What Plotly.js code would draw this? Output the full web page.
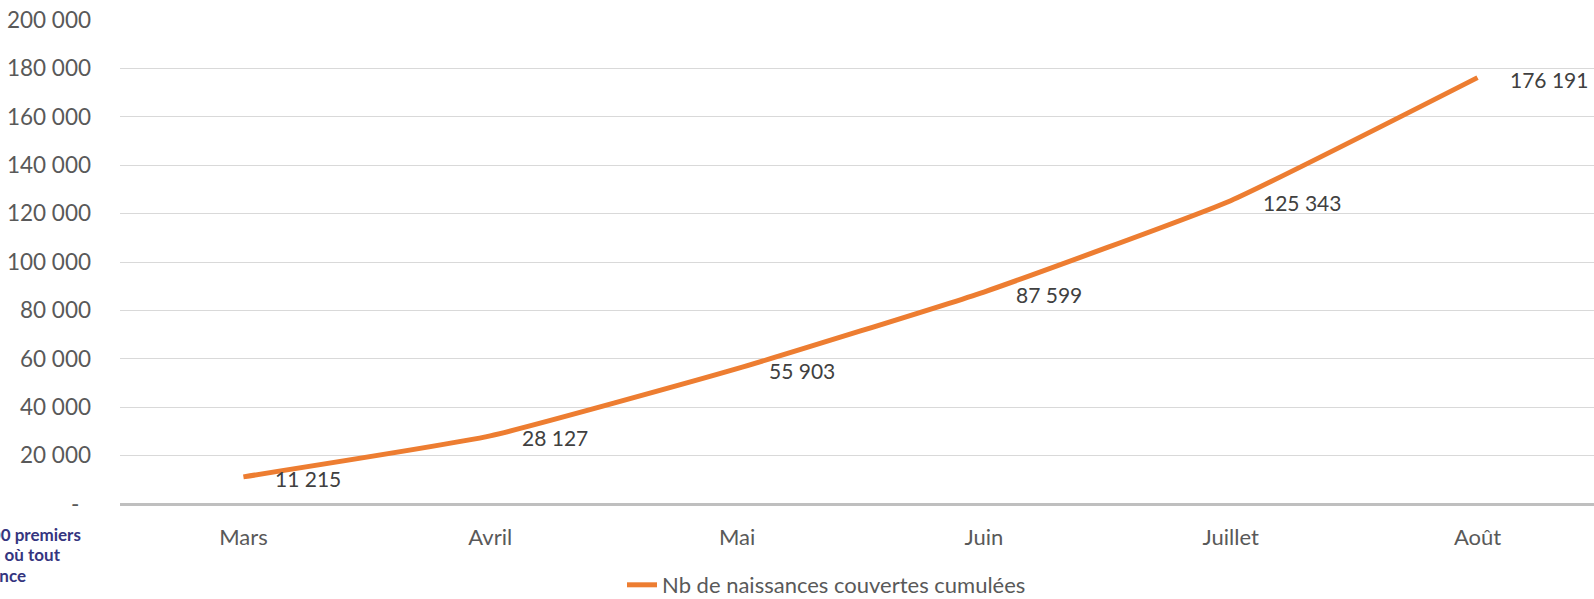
<!DOCTYPE html>
<html>
<head>
<meta charset="utf-8">
<script src="https://cdn.plot.ly/plotly-3.0.1.min.js"></script>
<style>
  html, body { margin: 0; padding: 0; background: #ffffff; }
  #chart { width: 1594px; height: 599px; }
</style>
</head>
<body>
<div id="chart"></div>
<script>
const categories = ["Mars", "Avril", "Mai", "Juin", "Juillet", "Août"];
const naissancesCumulees = [11215, 28127, 55903, 87599, 125343, 176191];
const seriesName = "Nb de naissances couvertes cumulées";
const yTickValues = [0, 20000, 40000, 60000, 80000, 100000, 120000, 140000, 160000, 180000, 200000];
const yTickLabels = ["-\u00a0\u00a0", "20 000", "40 000", "60 000", "80 000", "100 000", "120 000", "140 000", "160 000", "180 000", "200 000"];
const sideTextLines = ["Les 1000 premiers", "jours, là où tout", "commence"];

function fmt(v) {
  return String(v).replace(/\B(?=(\d{3})+(?!\d))/g, " ");
}

const FONT = "Lato, 'Open Sans', sans-serif";

const trace = {
  type: "scatter",
  mode: "lines",
  x: categories,
  y: naissancesCumulees,
  name: seriesName,
  line: { color: "#ED7D31", width: 5, shape: "spline", smoothing: 0.4 },
  hoverinfo: "x+y"
};

const annotations = categories.map((c, i) => ({
  x: c, y: naissancesCumulees[i], xref: "x", yref: "y",
  text: fmt(naissancesCumulees[i]),
  showarrow: false, xanchor: "left", yanchor: "middle",
  xshift: 30, yshift: -2,
  font: { family: FONT, size: 21, color: "#404040" }
}));

const sideX = [-37, -57, -92];
sideTextLines.forEach((t, i) => {
  annotations.push({
    xref: "paper", yref: "paper",
    x: sideX[i] / 1474, y: (504 - 534 - i * 20.8) / 484,
    text: "<b>" + t + "</b>", showarrow: false,
    xanchor: "right", yanchor: "middle",
    font: { family: FONT, size: 17, color: "#35357f" }
  });
});

const layout = {
  width: 1594, height: 599,
  margin: { l: 120, r: 0, t: 20, b: 95, autoexpand: false },
  paper_bgcolor: "#ffffff", plot_bgcolor: "#ffffff",
  font: { family: FONT, size: 21, color: "#595959" },
  showlegend: true,
  legend: {
    orientation: "h", x: (622 - 120) / 1474, xanchor: "left",
    y: (504 - 585) / 484, yanchor: "middle",
    font: { family: FONT, size: 22, color: "#595959" },
    bgcolor: "rgba(0,0,0,0)"
  },
  xaxis: {
    type: "category",
    range: [-0.5, 5.472],
    showgrid: false, zeroline: false, showline: false,
    ticks: "", ticklabelstandoff: 18,
    tickfont: { family: FONT, size: 22, color: "#595959" },
    fixedrange: true
  },
  yaxis: {
    range: [0, 200000],
    tickvals: yTickValues, ticktext: yTickLabels,
    showgrid: true, gridcolor: "#d9d9d9", gridwidth: 1,
    zeroline: true, zerolinecolor: "#bfbfbf", zerolinewidth: 3,
    showline: false, ticks: "", ticklabelstandoff: 28,
    tickfont: { family: FONT, size: 22.5, color: "#595959" },
    fixedrange: true
  },
  annotations: annotations
};

Plotly.newPlot("chart", [trace], layout, { displayModeBar: false, staticPlot: true });
</script>
</body>
</html>
